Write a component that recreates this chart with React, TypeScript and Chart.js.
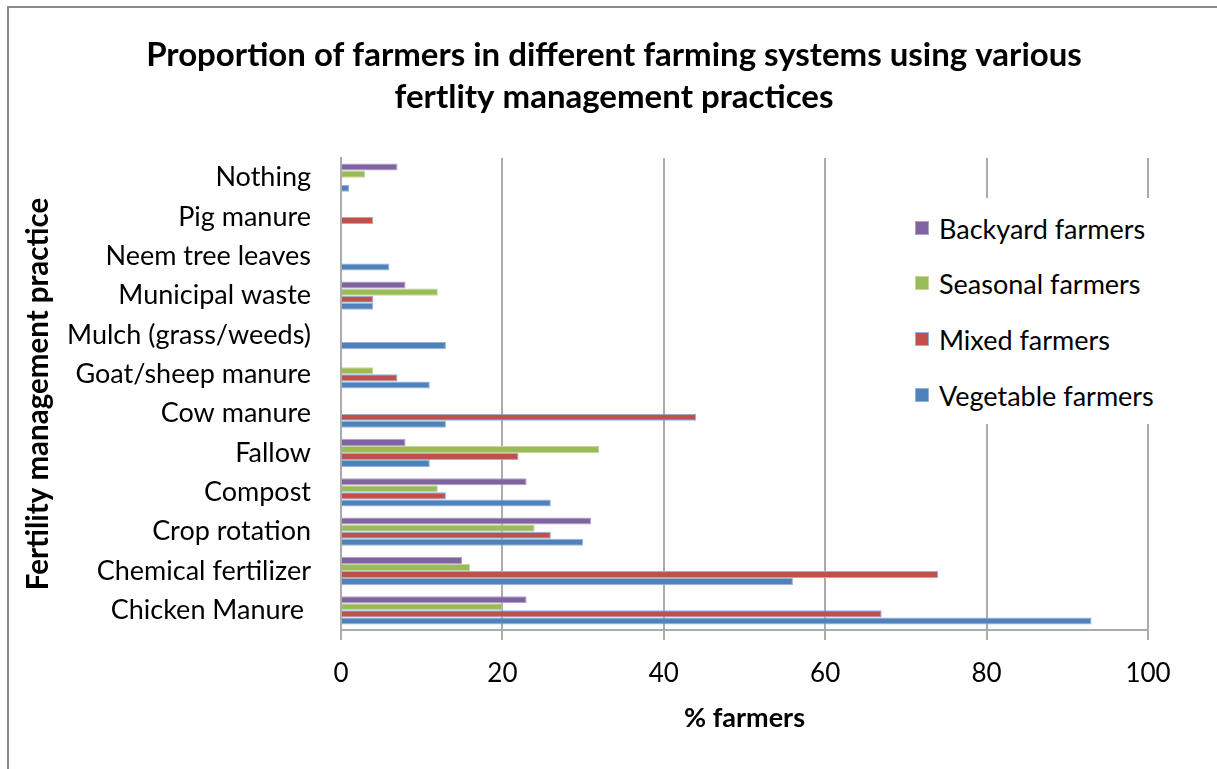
import React, { useEffect, useRef } from 'react';
import { Chart, registerables } from 'chart.js';

Chart.register(...registerables);

const categories = [
  'Nothing',
  'Pig manure',
  'Neem tree leaves',
  'Municipal waste',
  'Mulch (grass/weeds)',
  'Goat/sheep manure',
  'Cow manure',
  'Fallow',
  'Compost',
  'Crop rotation',
  'Chemical fertilizer',
  'Chicken Manure ',
];
const seriesNames = ['Backyard farmers', 'Seasonal farmers', 'Mixed farmers', 'Vegetable farmers'];
const backyard = [7, 0, 0, 8, 0, 0, 0, 8, 23, 31, 15, 23];
const seasonal = [3, 0, 0, 12, 0, 4, 0, 32, 12, 24, 16, 20];
const mixed = [0, 4, 0, 4, 0, 7, 44, 22, 13, 26, 74, 67];
const vegetable = [1, 0, 6, 4, 13, 11, 13, 11, 26, 30, 56, 93];
const xTicks = [0, 20, 40, 60, 80, 100];
const titleLines = ['Proportion of farmers in different farming systems using various', 'fertlity management practices'];
const xTitle = '% farmers';
const yTitle = 'Fertility management practice';

const seriesValues = [backyard, seasonal, mixed, vegetable];
const fills = ['#8064A2', '#9BBB59', '#C0504D', '#4F81BD'];
const borders = ['#B3A2C7', '#C3D69B', '#8EB4E3', '#95B3D7'];

const FONT = 'Lato, "Open Sans", sans-serif';

export default function App() {
  const ref = useRef<HTMLCanvasElement | null>(null);

  useEffect(() => {
    if (!ref.current) return;
    const chart = new Chart(ref.current, {
      type: 'bar',
      data: {
        labels: categories,
        datasets: seriesNames.map((name, i) => ({
          label: name,
          data: seriesValues[i],
          backgroundColor: fills[i],
          borderColor: borders[i],
          borderWidth: (ctx: any) => (ctx.raw ? 1 : 0),
          borderSkipped: 'start',
          categoryPercentage: 0.72,
          barPercentage: 1,
          xAxisID: 'x',
          yAxisID: 'y',
        })),
      },
      options: {
        indexAxis: 'y',
        animation: false,
        responsive: false,
        maintainAspectRatio: false,
        layout: { padding: { left: 11, right: 0, top: 0, bottom: 0 } },
        plugins: {
          legend: { display: false },
          tooltip: { enabled: false },
          title: {
            display: true,
            text: titleLines,
            color: '#000',
            font: { family: FONT, size: 33, weight: 'bold', lineHeight: 1.3 },
            padding: { top: 33.5, bottom: 38.7 },
          },
        },
        scales: {
          x: {
            type: 'linear',
            position: 'bottom',
            min: 0,
            max: 100,
            afterBuildTicks: (scale: any) => {
              scale.ticks = xTicks.map((v) => ({ value: v }));
            },
            afterFit: (scale: any) => {
              scale.height = 139;
            },
            ticks: {
              color: '#000',
              font: { family: FONT, size: 26 },
              padding: 18,
            },
            grid: {
              color: '#ababab',
              lineWidth: 2,
              drawTicks: true,
              tickLength: 10,
            },
            border: { display: true, color: '#ababab', width: 2 },
            title: {
              display: true,
              text: xTitle,
              color: '#000',
              font: { family: FONT, size: 27, weight: 'bold', lineHeight: 1.2 },
              padding: { top: 0, bottom: 35 },
            },
          },
          y: {
            type: 'category',
            position: 'left',
            afterFit: (scale: any) => {
              scale.width = 330;
            },
            ticks: {
              color: '#000',
              font: { family: FONT, size: 27 },
              padding: 30,
            },
            grid: { display: false, drawTicks: false },
            border: { display: true, color: '#ababab', width: 2 },
            title: {
              display: true,
              text: yTitle,
              color: '#000',
              font: { family: FONT, size: 29.5, weight: 'bold', lineHeight: 1.2 },
              padding: { top: 9.3, bottom: 0 },
            },
          },
          pad: {
            type: 'linear',
            position: 'right',
            display: true,
            afterFit: (scale: any) => {
              scale.width = 69;
            },
            ticks: { display: false },
            grid: { display: false, drawTicks: false },
            border: { display: false },
          },
        },
      } as any,
    });
    return () => chart.destroy();
  }, []);

  const legendTops = [228, 283, 339, 395];

  return (
    <div style={{ position: 'fixed', left: 0, top: 0, width: 1217, height: 769, overflow: 'hidden', background: '#fff' }}>
      <div
        style={{
          position: 'absolute',
          left: 7,
          top: 6,
          width: 1400,
          height: 1000,
          borderTop: '2px solid #8a8a8a',
          borderLeft: '2px solid #8a8a8a',
        }}
      />
      <canvas ref={ref} width={1217} height={769} style={{ position: 'absolute', left: 0, top: 0, width: 1217, height: 769 }} />
      <div
        style={{
          position: 'absolute',
          left: 905,
          top: 198,
          width: 270,
          height: 226,
          background: '#fff',
        }}
      />
      {seriesNames.map((name, i) => (
        <div
          key={name}
          style={{
            position: 'absolute',
            left: 915,
            top: legendTops[i] - 18,
            height: 36,
            display: 'flex',
            alignItems: 'center',
            fontFamily: FONT,
            fontSize: 27,
            color: '#000',
            whiteSpace: 'nowrap',
          }}
        >
          <span
            style={{
              display: 'inline-block',
              width: 14,
              height: 14,
              background: fills[i],
              boxSizing: 'border-box',
              border: `1px solid ${borders[i]}`,
              marginRight: 10,
            }}
          />
          {name}
        </div>
      ))}
    </div>
  );
}
